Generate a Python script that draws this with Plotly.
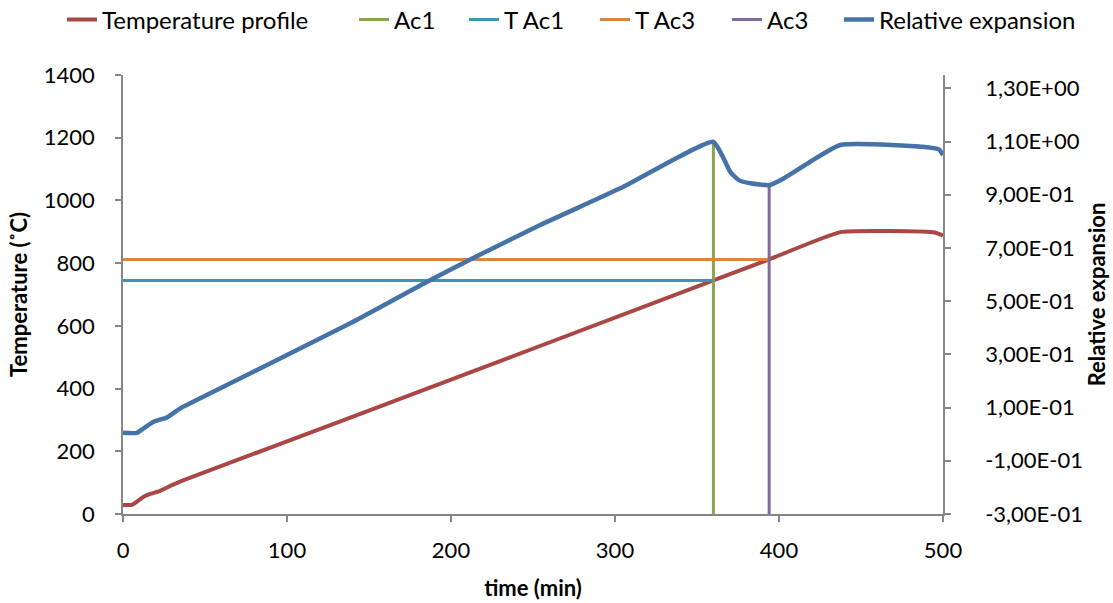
import plotly.graph_objects as go

# ---- data ----
temp_t = [0, 5.5, 12.6, 16.6, 22.7, 29.9, 37, 138.6, 360, 394, 437.4, 495, 500]
temp_T = [29, 29, 55, 64, 74, 92, 108, 307, 745, 812, 899, 898, 888]

exp_t = [0, 8.4, 12.6, 18.7, 26.8, 34.9, 41, 47.1, 138.6, 186.3, 211.8, 254.4, 303.2,
         359.8, 365.2, 370.3, 375.4, 382.5, 394.1, 402.8, 419.1, 437.4, 497.3, 500]
exp_v = [0.005, 0.005, 0.022, 0.047, 0.063, 0.097, 0.116, 0.135, 0.417, 0.576, 0.657, 0.786, 0.924,
         1.099, 1.049, 0.986, 0.955, 0.943, 0.936, 0.961, 1.024, 1.087, 1.071, 1.049]

ac1_t = [360, 360]
ac1_T = [0, 1189]
ac3_t = [394, 394]
ac3_T = [0, 1049]
tac1_t = [0, 360]
tac1_T = [745, 745]
tac3_t = [0, 394]
tac3_T = [812, 812]

x_ticks = [0, 100, 200, 300, 400, 500]
left_ticks = [0, 200, 400, 600, 800, 1000, 1200, 1400]
right_tickvals = [-0.3, -0.1, 0.1, 0.3, 0.5, 0.7, 0.9, 1.1, 1.3]
right_ticktext = ["-3,00E-01", "-1,00E-01", "1,00E-01", "3,00E-01", "5,00E-01",
                  "7,00E-01", "9,00E-01", "1,10E+00", "1,30E+00"]

FONT = "Lato"
AXIS_COLOR = "#868686"
FS = 22
LEG_FS = 24

# legend entry left edges (pixels), one legend per series to match spacing
legend_px = [62, 354, 464, 595, 727, 839]
L, W = 123, 820

fig = go.Figure()
fig.add_trace(go.Scatter(x=temp_t, y=temp_T, mode="lines", name="Temperature profile", legend="legend",
                         line=dict(color="#AA4643", width=4, shape="spline", smoothing=0.4)))
fig.add_trace(go.Scatter(x=ac1_t, y=ac1_T, mode="lines", name="Ac1", legend="legend2",
                         line=dict(color="#89A54E", width=3)))
fig.add_trace(go.Scatter(x=tac1_t, y=tac1_T, mode="lines", name="T Ac1", legend="legend3",
                         line=dict(color="#3D96AE", width=3)))
fig.add_trace(go.Scatter(x=tac3_t, y=tac3_T, mode="lines", name="T Ac3", legend="legend4",
                         line=dict(color="#DB843D", width=3)))
fig.add_trace(go.Scatter(x=ac3_t, y=ac3_T, mode="lines", name="Ac3", legend="legend5",
                         line=dict(color="#80699B", width=3)))
fig.add_trace(go.Scatter(x=exp_t, y=exp_v, mode="lines", name="Relative expansion", yaxis="y2",
                         legend="legend6",
                         line=dict(color="#4572A7", width=4.5, shape="spline", smoothing=0.5)))


def leg(px):
    return dict(orientation="h", x=(px - L) / W, xanchor="left",
                y=1 + (75 - 20) / 439, yanchor="middle",
                font=dict(size=LEG_FS), itemwidth=30,
                bgcolor="rgba(0,0,0,0)")


fig.update_layout(
    width=1113, height=603,
    margin=dict(l=123, r=170, t=75, b=89, autoexpand=False),
    paper_bgcolor="white", plot_bgcolor="white",
    font=dict(family=FONT, size=FS, color="black"),
    showlegend=True,
    legend=leg(legend_px[0]), legend2=leg(legend_px[1]), legend3=leg(legend_px[2]),
    legend4=leg(legend_px[3]), legend5=leg(legend_px[4]), legend6=leg(legend_px[5]),
    xaxis=dict(range=[0, 500], tickvals=x_ticks, showgrid=False, zeroline=False,
               showline=True, linecolor=AXIS_COLOR, linewidth=1.5,
               ticks="outside", ticklen=6, tickcolor=AXIS_COLOR, tickwidth=1.5,
               ticklabelstandoff=10,
               title=dict(text="<b>time (min)</b>", font=dict(size=FS), standoff=18)),
    yaxis=dict(range=[0, 1400], tickvals=left_ticks, showgrid=False, zeroline=False,
               showline=True, linecolor=AXIS_COLOR, linewidth=1.5,
               ticks="outside", ticklen=6, tickcolor=AXIS_COLOR, tickwidth=1.5,
               ticklabelstandoff=16,
               title=dict(text="<b>Temperature (˚C)</b>", font=dict(size=FS), standoff=10)),
    yaxis2=dict(range=[-0.3, 1.35], overlaying="y", side="right", anchor="x",
                tickvals=right_tickvals, ticktext=right_ticktext,
                showgrid=False, zeroline=False,
                showline=True, linecolor=AXIS_COLOR, linewidth=1.5,
                ticks="outside", ticklen=6, tickcolor=AXIS_COLOR, tickwidth=1.5,
                ticklabelstandoff=30,
                title=dict(text="<b>Relative expansion</b>", font=dict(size=FS), standoff=8)),
)

fig.write_html("out.html")
